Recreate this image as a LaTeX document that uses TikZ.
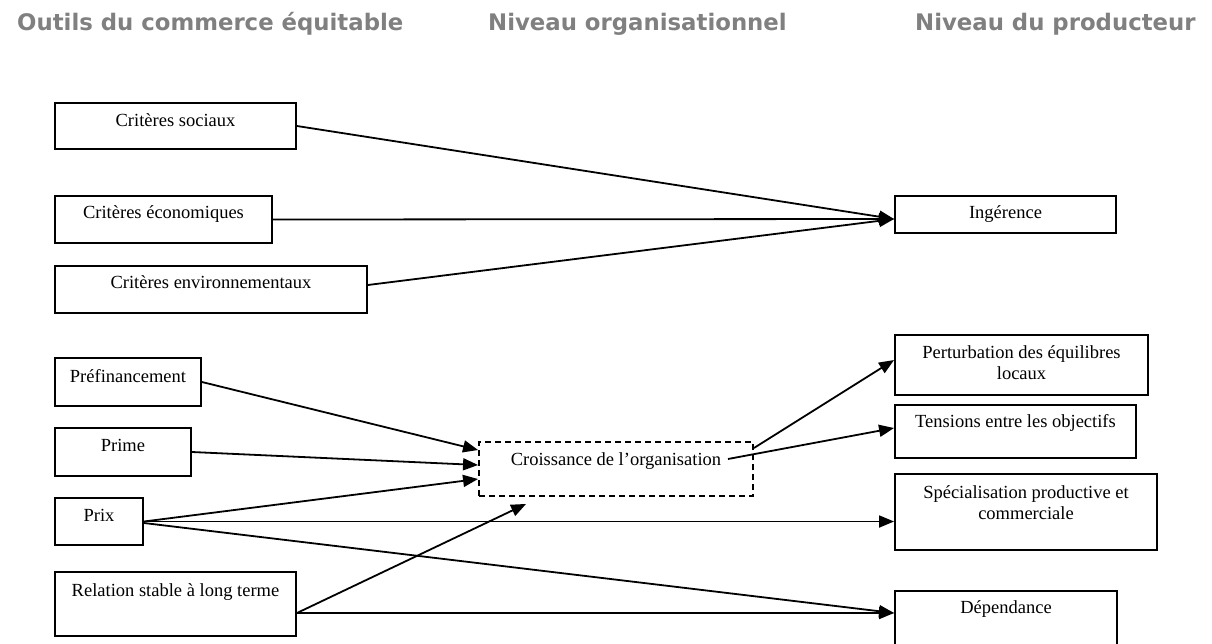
\documentclass[tikz,border=0pt]{standalone}
\usepackage{fontspec}
\setmainfont{Liberation Serif}
\newfontfamily\hdrfont{DejaVu Sans}
\usetikzlibrary{arrows.meta}
\definecolor{hdrgray}{RGB}{128,128,128}
\newcommand\tp[2]{\raisebox{#1pt}[0pt][0pt]{#2}}
\newcommand\tpp[3]{\raisebox{#1pt}[0pt][0pt]{\begin{tabular}[t]{@{}c@{}}#2\\#3\end{tabular}}}
\tikzset{
  box/.style={draw, line width=1.9pt, inner sep=0pt, font=\fontsize{18.5}{21}\selectfont},
  dbox/.style={box, dash pattern=on 6pt off 4pt},
  conn/.style={line width=1.8pt, -{Triangle[length=15pt,width=12pt]}},
  hdr/.style={anchor=base west, inner sep=0pt, text=hdrgray, font=\hdrfont\bfseries\fontsize{22.8}{27}\selectfont},
}
\begin{document}
\begin{tikzpicture}[x=1pt,y=-1pt]
\clip (0,0) rectangle (1212,643);
\fill[white] (0,0) rectangle (1212,643);
% headers
\node[hdr] (h1) at (17,30) {Outils du commerce équitable};
\node[hdr] (h2) at (488,30) {Niveau organisationnel};
\node[hdr] (h3) at (915,30) {Niveau du producteur};
% left boxes
\node[box, minimum width=241pt, minimum height=46pt] (cs) at (175.5,126) {\tp{-0.5}{Critères sociaux}};
\node[box, minimum width=217pt, minimum height=47pt] (ce) at (163.5,219.5) {\tp{1}{Critères économiques}};
\node[box, minimum width=312pt, minimum height=47pt] (cv) at (211,289.5) {\tp{1}{Critères environnementaux}};
\node[box, minimum width=146pt, minimum height=48pt] (pf) at (128,382) {\tp{-0.5}{Préfinancement}};
\node[box, minimum width=136pt, minimum height=48pt] (pr) at (123,452) {\tp{0.5}{Prime}};
\node[box, minimum width=88pt, minimum height=47pt] (px) at (99,521.5) {\tp{0}{Prix}};
\node[box, minimum width=241pt, minimum height=64pt] (rl) at (175.5,604) {\tp{7.5}{Relation stable à long terme}};
% middle
\node[dbox, minimum width=274pt, minimum height=54pt] (cr) at (616,469) {\tp{3.5}{Croissance de l’organisation}};
% right boxes
\node[box, minimum width=221pt, minimum height=37pt] (in) at (1005.5,214.5) {\tp{-4}{Ingérence}};
\node[box, minimum width=253pt, minimum height=60pt] (pe) at (1021.5,365) {\tpp{6.5}{Perturbation des équilibres}{locaux}};
\node[box, minimum width=241pt, minimum height=53pt] (te) at (1015.5,431.5) {\tp{4}{Tensions entre les objectifs}};
\node[box, minimum width=262pt, minimum height=76pt] (sp) at (1026,512) {\tpp{13.5}{Spécialisation productive et}{commerciale}};
\node[box, minimum width=222pt, minimum height=69pt] (de) at (1006,625.5) {\tp{12}{Dépendance}};
% connectors
\draw[conn] (cs.east) -- ([yshift=-4.5pt]in.west);
\draw[conn] (ce.east) -- ([yshift=-4.5pt]in.west);
\draw[conn] ([yshift=4.5pt]cv.east) -- ([yshift=-4.5pt]in.west);
\draw[conn] (pf.east) -- ([yshift=19pt]cr.west);
\draw[conn] (pr.east) -- ([yshift=4pt]cr.west);
\draw[conn] (px.east) -- ([yshift=-10pt]cr.west);
\draw[conn] (px.east) -- ([yshift=-9.5pt]sp.west);
\draw[conn] ([yshift=-1.5pt]px.east) -- ([yshift=12.5pt]de.west);
\draw[conn] ([yshift=-9pt]rl.east) -- ([xshift=48pt,yshift=-7pt]cr.south west);
\draw[conn] ([yshift=-9pt]rl.east) -- ([yshift=12.5pt]de.west);
\draw[conn] ([yshift=21pt]cr.east) -- ([yshift=5pt]pe.west);
\draw[conn] ([xshift=-26pt,yshift=10pt]cr.east) -- ([yshift=3.5pt]te.west);
\end{tikzpicture}
\end{document}
